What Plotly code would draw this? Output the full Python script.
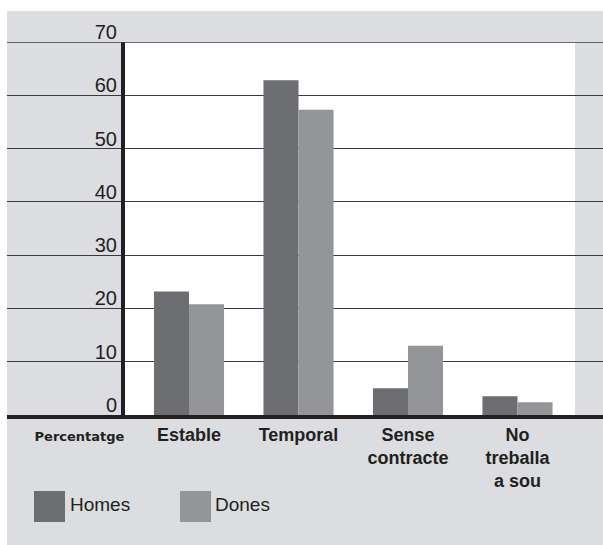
import plotly.graph_objects as go

categories = ["Percentatge", "Estable", "Temporal", "Sense<br>contracte", "No<br>treballa<br>a sou"]
homes = [None, 23.2, 62.8, 5.0, 3.5]
dones = [None, 20.8, 57.3, 13.0, 2.4]
y_ticks = [0, 10, 20, 30, 40, 50, 60, 70]

W, H = 603, 545
L, R, T, B = 7, 603, 42, 415

DARK = "#6d6e71"
LIGHT = "#939598"
GRAY_BG = "#dcdde0"
INK = "#231f20"


def px_x(x):
    return (x - L) / (R - L)


def px_y(y):
    return (B - y) / (B - T)


fig = go.Figure()
fig.add_trace(go.Bar(x=categories, y=homes, name="Homes", marker=dict(color=DARK, line=dict(width=0))))
fig.add_trace(go.Bar(x=categories, y=dones, name="Dones", marker=dict(color=LIGHT, line=dict(width=0))))

ticktext = ["<span style='font-family:DejaVu Sans;font-size:13px'><b>Percentatge</b></span>"] + [
    f"<b>{c}</b>" for c in categories[1:]
]

shapes = [
    # gray panel
    dict(type="rect", xref="paper", yref="paper", x0=px_x(7), x1=px_x(603), y0=px_y(545), y1=px_y(11),
         fillcolor=GRAY_BG, line=dict(width=0), layer="below"),
    # white plotting area
    dict(type="rect", xref="paper", yref="paper", x0=px_x(123), x1=px_x(575), y0=0, y1=1,
         fillcolor="white", line=dict(width=0), layer="below"),
    # top grid line (plotly skips it at the range edge)
    dict(type="line", xref="paper", yref="y", x0=0, x1=1, y0=y_ticks[-1], y1=y_ticks[-1],
         line=dict(color="#3a3a3a", width=1.5)),
    # legend squares
    dict(type="rect", xref="paper", yref="paper", x0=px_x(34), x1=px_x(65), y0=px_y(522), y1=px_y(491),
         fillcolor=DARK, line=dict(width=0)),
    dict(type="rect", xref="paper", yref="paper", x0=px_x(180), x1=px_x(211), y0=px_y(522), y1=px_y(491),
         fillcolor=LIGHT, line=dict(width=0)),
]

annotations = [
    dict(text="Homes", xref="paper", yref="paper", x=px_x(68), y=px_y(504), xanchor="left", yanchor="middle",
         showarrow=False, font=dict(size=19, color=INK, family="Liberation Sans")),
    dict(text="Dones", xref="paper", yref="paper", x=px_x(213), y=px_y(504), xanchor="left", yanchor="middle",
         showarrow=False, font=dict(size=19, color=INK, family="Liberation Sans")),
]

fig.update_layout(
    width=W, height=H,
    margin=dict(l=L, r=W - R, t=T, b=H - B),
    paper_bgcolor="white",
    plot_bgcolor="rgba(0,0,0,0)",
    barmode="group",
    bargap=0.36,
    bargroupgap=0,
    showlegend=False,
    shapes=shapes,
    annotations=annotations,
    font=dict(family="Liberation Sans", color=INK),
    xaxis=dict(
        type="category",
        range=[(L - 79.5) / 109.5, (R - 79.5) / 109.5],
        tickvals=categories, ticktext=ticktext,
        tickfont=dict(size=18, color=INK, family="Liberation Sans"),
        showline=True, linewidth=4, linecolor=INK,
        showgrid=False, ticks="", fixedrange=True,
    ),
    yaxis=dict(
        range=[0, 70],
        tickvals=y_ticks,
        anchor="free", position=px_x(123),
        ticklabelposition="outside top",
        ticklabelshift=4,
        tickfont=dict(size=20, color=INK, family="Liberation Sans"),
        showline=True, linewidth=4, linecolor=INK,
        showgrid=True, gridcolor="#3a3a3a", gridwidth=1,
        zeroline=False, ticks="",
    ),
)

fig.write_html("out.html", config={"displayModeBar": False},
               post_script="document.body.style.margin='0';")
